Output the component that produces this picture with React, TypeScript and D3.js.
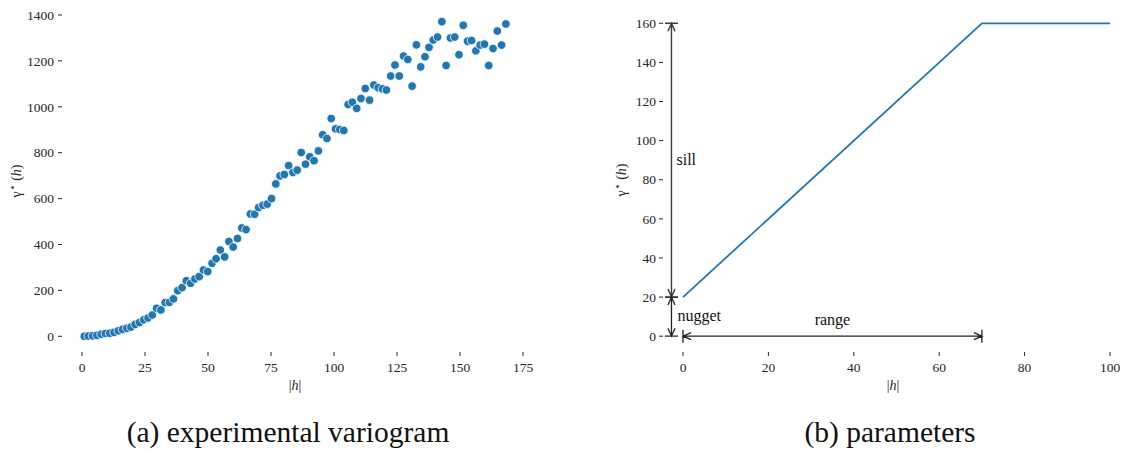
import * as d3 from "d3";

// experimental variogram (a)
const lags = [
  0.9, 2.5, 4.2, 5.9, 7.6, 9.3, 11.0, 12.7, 14.4, 16.1,
  17.8, 19.4, 21.1, 22.8, 24.5, 26.2, 27.9, 29.6, 31.3, 33.0,
  34.7, 36.3, 38.0, 39.7, 41.4, 43.1, 44.8, 46.5, 48.2, 49.9,
  51.6, 53.2, 54.9, 56.6, 58.3, 60.0, 61.7, 63.4, 65.1, 66.8,
  68.5, 70.1, 71.8, 73.5, 75.2, 76.9, 78.6, 80.3, 82.0, 83.7,
  85.4, 87.0, 88.7, 90.4, 92.1, 93.8, 95.5, 97.2, 98.9, 100.6,
  102.3, 103.9, 105.6, 107.3, 109.0, 110.7, 112.4, 114.1, 115.8, 117.5,
  119.2, 120.8, 122.5, 124.2, 125.9, 127.6, 129.3, 131.0, 132.7, 134.4,
  136.1, 137.7, 139.4, 141.1, 142.8, 144.5, 146.2, 147.9, 149.6, 151.3,
  153.0, 154.6, 156.3, 158.0, 159.7, 161.4, 163.1, 164.8, 166.5, 168.2,
];
const semivariance = [
  0, 1, 2, 4, 9, 12, 13, 17, 24, 30,
  35, 40, 52, 60, 72, 80, 93, 122, 115, 147,
  148, 163, 199, 212, 242, 231, 250, 260, 289, 282,
  318, 338, 376, 346, 413, 389, 426, 472, 465, 533,
  532, 561, 571, 576, 600, 664, 699, 705, 744, 714,
  724, 801, 750, 782, 765, 808, 878, 862, 949, 904,
  901, 897, 1010, 1020, 993, 1036, 1080, 1029, 1095, 1083,
  1078, 1073, 1134, 1182, 1134, 1221, 1206, 1090, 1270, 1174,
  1218, 1259, 1291, 1304, 1371, 1180, 1300, 1304, 1227, 1355,
  1286, 1289, 1244, 1269, 1273, 1180, 1254, 1330, 1269, 1361,
];
const xTicksA = [0, 25, 50, 75, 100, 125, 150, 175];
const yTicksA = [0, 200, 400, 600, 800, 1000, 1200, 1400];

// model parameters (b)
const nugget = 20;
const sill = 160;
const range = 70;
const modelH = [0, range, 100];
const modelGamma = [nugget, sill, sill];
const xTicksB = [0, 20, 40, 60, 80, 100];
const yTicksB = [0, 20, 40, 60, 80, 100, 120, 140, 160];

const captions = ["(a) experimental variogram", "(b) parameters"];

const FONT = "'Liberation Serif', 'DejaVu Serif', serif";
const INK = "#262626";
const BLUE = "#1f77b4";

// bar + open arrowheads at both ends, like matplotlib "|<->|"
function dimArrow(x1: number, y1: number, x2: number, y2: number) {
  const bar = 6.5, head = 8, hw = 3.5;
  const dx = x2 - x1, dy = y2 - y1;
  const L = Math.hypot(dx, dy);
  const ux = dx / L, uy = dy / L, px = -uy, py = ux;
  let d = `M${x1},${y1}L${x2},${y2}`;
  d += `M${x1 - px * bar},${y1 - py * bar}L${x1 + px * bar},${y1 + py * bar}`;
  d += `M${x2 - px * bar},${y2 - py * bar}L${x2 + px * bar},${y2 + py * bar}`;
  d += `M${x1 + ux * head + px * hw},${y1 + uy * head + py * hw}L${x1},${y1}L${x1 + ux * head - px * hw},${y1 + uy * head - py * hw}`;
  d += `M${x2 - ux * head + px * hw},${y2 - uy * head + py * hw}L${x2},${y2}L${x2 - ux * head - px * hw},${y2 - uy * head - py * hw}`;
  return d;
}

const YLabel = ({x, y}: {x: number; y: number}) => (
  <text transform={`translate(${x},${y}) rotate(-90)`} textAnchor="middle" fontSize={14} fill={INK}>
    γ<tspan fontSize={11} dy={-5}>⋆</tspan>
    <tspan dy={5}> (</tspan>
    <tspan fontStyle="italic">h</tspan>)
  </text>
);

const XLabel = ({x, y}: {x: number; y: number}) => (
  <text x={x} y={y} textAnchor="middle" fontSize={14} fill={INK}>
    |<tspan fontStyle="italic">h</tspan>|
  </text>
);

export default function App() {
  // panel (a)
  const xA = d3.scaleLinear().domain([0, 175]).range([82, 523]);
  const yA = d3.scaleLinear().domain([0, 1400]).range([336.3, 15]);
  // panel (b)
  const xB = d3.scaleLinear().domain([0, 100]).range([683, 1110]);
  const yB = d3.scaleLinear().domain([0, 160]).range([336.2, 23.3]);

  const line = d3.line<number>()
    .x((d) => xB(d))
    .y((_, i) => yB(modelGamma[i]));

  const annotX = xB(-2.7);

  return (
    <svg width={1122} height={450} style={{position: "absolute", left: 0, top: 0, background: "#fff"}}
         fontFamily={FONT}>
      {/* ----- (a) ----- */}
      {yTicksA.map((t) => (
        <g key={"ya" + t}>
          <line x1={58} x2={62} y1={yA(t)} y2={yA(t)} stroke={INK} strokeWidth={1} />
          <text x={54} y={yA(t)} dy="0.35em" textAnchor="end" fontSize={13.5} fill={INK}>{t}</text>
        </g>
      ))}
      {xTicksA.map((t) => (
        <g key={"xa" + t}>
          <line x1={xA(t)} x2={xA(t)} y1={352} y2={356} stroke={INK} strokeWidth={1} />
          <text x={xA(t)} y={372} textAnchor="middle" fontSize={13.5} fill={INK}>{t}</text>
        </g>
      ))}
      {semivariance.map((v, i) => (
        <circle key={i} cx={xA(lags[i])} cy={yA(v)} r={4.3} fill={BLUE} stroke="#fff" strokeWidth={0.8} />
      ))}
      <YLabel x={21} y={181} />
      <XLabel x={295} y={390} />

      {/* ----- (b) ----- */}
      {yTicksB.map((t) => (
        <g key={"yb" + t}>
          <line x1={659} x2={663} y1={yB(t)} y2={yB(t)} stroke={INK} strokeWidth={1} />
          <text x={656} y={yB(t)} dy="0.35em" textAnchor="end" fontSize={13.5} fill={INK}>{t}</text>
        </g>
      ))}
      {xTicksB.map((t) => (
        <g key={"xb" + t}>
          <line x1={xB(t)} x2={xB(t)} y1={352} y2={356} stroke={INK} strokeWidth={1} />
          <text x={xB(t)} y={372} textAnchor="middle" fontSize={13.5} fill={INK}>{t}</text>
        </g>
      ))}
      <path d={line(modelH) || ""} fill="none" stroke={BLUE} strokeWidth={1.8} />

      <path d={dimArrow(annotX, yB(nugget), annotX, yB(sill))} fill="none" stroke="#3a3a3a" strokeWidth={1.4} />
      <path d={dimArrow(annotX, yB(0), annotX, yB(nugget))} fill="none" stroke="#222" strokeWidth={1.3} />
      <path d={dimArrow(xB(0), yB(0), xB(range), yB(0))} fill="none" stroke="#222" strokeWidth={1.3} />

      <text x={annotX + 5} y={yB((nugget + sill) / 2) + 5} fontSize={16} fill="#111">sill</text>
      <text x={annotX + 6} y={yB(nugget / 2) + 4} fontSize={16} fill="#111">nugget</text>
      <text x={xB(range / 2)} y={yB(0) - 11} textAnchor="middle" fontSize={16} fill="#111">range</text>

      <YLabel x={626} y={180} />
      <XLabel x={893} y={390} />

      {/* captions */}
      <text x={288} y={442} textAnchor="middle" fontSize={29.5} fill="#111">{captions[0]}</text>
      <text x={890} y={442} textAnchor="middle" fontSize={29.5} fill="#111">{captions[1]}</text>
    </svg>
  );
}
